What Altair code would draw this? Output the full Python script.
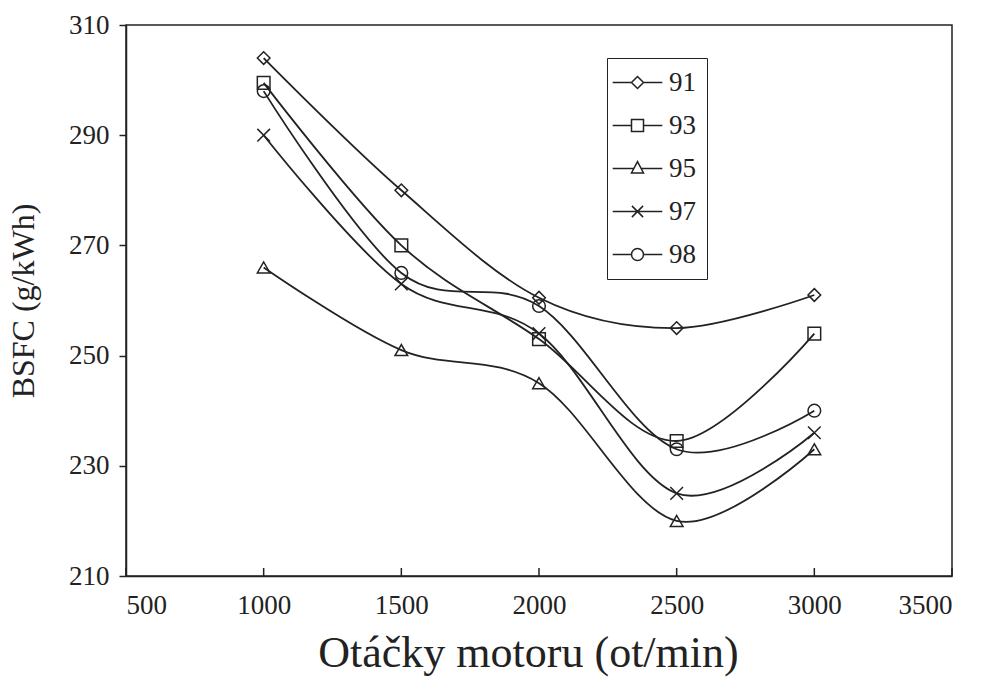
import altair as alt
import pandas as pd

# --- data ---
rpm = [1000, 1500, 2000, 2500, 3000]
series_names = ["91", "93", "95", "97", "98"]
bsfc_91 = [304, 280, 260.5, 255, 261]
bsfc_93 = [299.5, 270, 253, 234.5, 254]
bsfc_95 = [266, 251, 245, 220, 233]
bsfc_97 = [290, 263, 254, 225, 236]
bsfc_98 = [298, 265, 259, 233, 240]
x_ticks = [500, 1000, 1500, 2000, 2500, 3000, 3500]
y_ticks = [210, 230, 250, 270, 290, 310]

rows = []
for name, vals in zip(series_names, [bsfc_91, bsfc_93, bsfc_95, bsfc_97, bsfc_98]):
    for r, v in zip(rpm, vals):
        rows.append({"rpm": r, "bsfc": v, "oktan": name})
df = pd.DataFrame(rows)
ticks_df = pd.DataFrame({"t": x_ticks})

INK = "#222222"
FONT = "Liberation Serif"

x_scale = alt.Scale(domain=[500, 3500], nice=False, zero=False)
y_scale = alt.Scale(domain=[210, 310], nice=False, zero=False)

x_axis = alt.Axis(values=x_ticks, format="d", ticks=False, grid=False, labelFont=FONT,
                  labelFontSize=27, labelColor=INK, labelPadding=16,
                  domainColor=INK, domainWidth=1.5,
                  title="Otáčky motoru (ot/min)", titleFont=FONT, titleFontSize=44,
                  titleFontWeight="normal", titleColor=INK, titlePadding=13, titleX=402)
y_axis = alt.Axis(values=y_ticks, format="d", tickSize=7, tickColor=INK, tickWidth=1.5,
                  grid=False, labelFont=FONT, labelFontSize=27, labelColor=INK,
                  labelPadding=10, domainColor=INK, domainWidth=1.5,
                  title="BSFC (g/kWh)", titleFont=FONT, titleFontSize=32,
                  titleFontWeight="normal", titleColor=INK, titlePadding=28)

point_shapes = ["diamond", "square", "triangle-up",
                "M-1,-1L1,1M-1,1L1,-1", "circle"]

k = 3.1
legend_shapes = [
    f"M-{k},0H-0.75M0.75,0H{k}M0,-0.75L0.75,0L0,0.75L-0.75,0Z",
    f"M-{k},0H-0.75M0.75,0H{k}M-0.75,-0.75H0.75V0.75H-0.75Z",
    f"M-{k},0H-0.45M0.45,0H{k}M0,-0.85L0.75,0.55H-0.75Z",
    f"M-{k},0H{k}M-0.7,-0.7L0.7,0.7M-0.7,0.7L0.7,-0.7",
    f"M-{k},0H-0.75M0.75,0H{k}M-0.75,0A0.75,0.75 0 1,0 0.75,0A0.75,0.75 0 1,0 -0.75,0Z",
]

X = alt.X("rpm:Q", scale=x_scale, axis=x_axis)
Y = alt.Y("bsfc:Q", scale=y_scale, axis=y_axis)

base = alt.Chart(df)

lines = base.mark_line(interpolate="cardinal", color=INK, strokeWidth=1.8).encode(
    x=X, y=Y, detail="oktan:N",
)

points = base.mark_point(filled=False, color=INK, strokeWidth=1.5, size=160, opacity=1).encode(
    x=X, y=Y,
    shape=alt.Shape("oktan:N", scale=alt.Scale(domain=series_names, range=point_shapes), legend=None),
)

legend_layer = base.transform_filter("false").mark_point(
    filled=False, color=INK, strokeWidth=1.5, opacity=1
).encode(
    x=X, y=Y,
    shape=alt.Shape(
        "oktan:N",
        scale=alt.Scale(domain=series_names, range=legend_shapes),
        legend=alt.Legend(
            title=None, orient="none", legendX=481, legendY=33,
            strokeColor=INK, padding=11, rowPadding=15,
            symbolSize=256, symbolOffset=6, labelOffset=18,
            symbolStrokeWidth=1.5, symbolStrokeColor=INK, symbolFillColor="transparent",
            labelFont=FONT, labelFontSize=27, labelColor=INK,
        ),
    ),
)

# inward-pointing ticks on the bottom axis
tick_layer = alt.Chart(ticks_df).mark_rule(color=INK, strokeWidth=1.5).encode(
    x=alt.X("t:Q", scale=x_scale, axis=x_axis),
    y=alt.value(551),
    y2=alt.value(543),
)

chart = alt.layer(lines, points, legend_layer, tick_layer).resolve_scale(
    shape="independent"
).properties(
    width=826, height=551,
    autosize=alt.AutoSizeParams(type="none"),
    padding={"left": 126, "top": 25, "right": 32, "bottom": 103},
    background="white",
).configure_view(stroke=INK, strokeWidth=1.5)

chart.save("out.html", embed_options={"renderer": "svg", "actions": False})
